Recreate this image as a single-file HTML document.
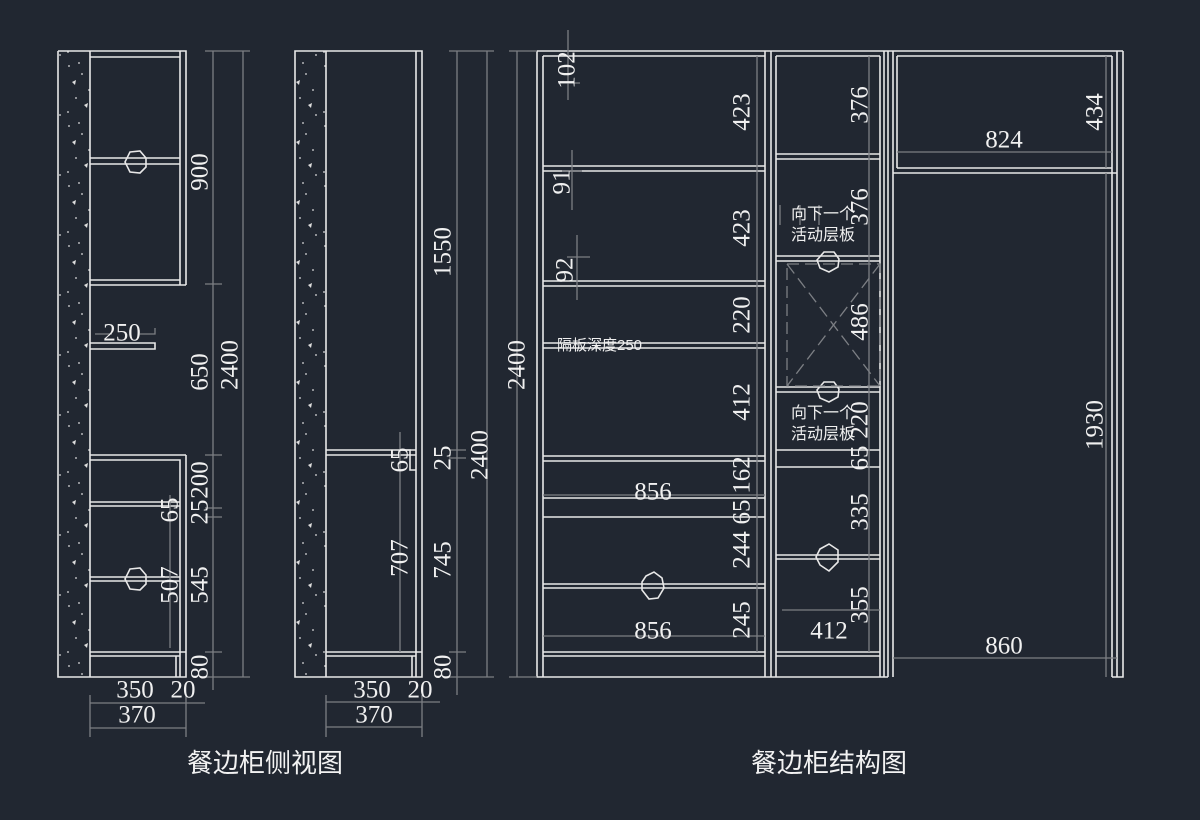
<!DOCTYPE html>
<html><head><meta charset="utf-8"><style>
html,body{margin:0;padding:0;background:#212731;}
svg{display:block}
.w{stroke:#e8e8e8;stroke-width:1.6;fill:none}
.g{stroke:#7c7f84;stroke-width:1.3;fill:none}
.t{fill:#f0f0f0;font-family:"Liberation Serif",serif;font-size:25px;text-anchor:middle;dominant-baseline:central}
.c{fill:#f0f0f0;font-family:"Liberation Sans","Noto Sans CJK SC",sans-serif;font-size:16px}
.h{fill:#f2f2f2;font-family:"Liberation Sans","Noto Sans CJK SC",sans-serif;font-size:26px}
</style></head><body>
<svg width="1200" height="820" viewBox="0 0 1200 820" xmlns="http://www.w3.org/2000/svg">
<defs>
<pattern id="hat" width="32" height="60" patternUnits="userSpaceOnUse">
<circle cx="5" cy="6" r="0.9" fill="#ddd"/><circle cx="18" cy="14" r="0.9" fill="#ddd"/>
<polygon points="8,22 12,20 11,25" fill="#ddd"/><circle cx="25" cy="30" r="0.9" fill="#ddd"/>
<circle cx="12" cy="38" r="0.9" fill="#ddd"/><polygon points="20,45 24,43 23,48" fill="#ddd"/>
<circle cx="4" cy="52" r="0.9" fill="#ddd"/><circle cx="28" cy="55" r="0.9" fill="#ddd"/>
<circle cx="15" cy="3" r="0.9" fill="#ddd"/>
</pattern>
</defs>

<!-- ===== Side view 1 ===== -->
<rect x="58" y="51" width="32" height="626" fill="url(#hat)"/>
<g class="w">
<path d="M58 51H186V285 M58 51V677H186V455 M90 51V677"/>
<path d="M90 57H180V285 M180 51V57"/>
<path d="M90 158H180 M90 164H180 M90 280H180 M90 285H186"/>
<path d="M90 455H186 M90 460H180V677 M90 502H180 M90 506H180 M90 577H180 M90 581H180 M90 652H186 M90 656H180 M176 656V677"/>
<path d="M90 343H155V349H90"/>
<polygon points="130,152 140,151 146,158 146,167 140,173 130,172 125,162"/>
<polygon points="130,569 140,568 146,575 146,584 140,590 130,589 125,579"/>
</g>
<g class="g">
<path d="M213 51V677 M243 51V677 M205 51H250 M205 284H222 M205 455H222 M205 508H222 M205 517H222 M205 652H222 M205 677H250 M213 677V690"/>
<path d="M170 495V648 M95 334H112 M140 334H155V328"/>
<path d="M90 695V737 M186 695V737 M90 703H205 M90 728H186"/>
</g>
<text class="t" transform="translate(200,172) rotate(-90)">900</text>
<text class="t" transform="translate(200,372) rotate(-90)">650</text>
<text class="t" transform="translate(230,365) rotate(-90)">2400</text>
<text class="t" transform="translate(200,480) rotate(-90)">200</text>
<text class="t" transform="translate(200,512) rotate(-90)">25</text>
<text class="t" transform="translate(200,585) rotate(-90)">545</text>
<text class="t" transform="translate(200,667) rotate(-90)">80</text>
<text class="t" transform="translate(170,510) rotate(-90)">65</text>
<text class="t" transform="translate(170,585) rotate(-90)">507</text>
<text class="t" x="122" y="333">250</text>
<text class="t" x="135" y="690">350</text>
<text class="t" x="183" y="690">20</text>
<text class="t" x="137" y="715">370</text>

<!-- ===== Side view 2 ===== -->
<rect x="295" y="51" width="31" height="626" fill="url(#hat)"/>
<g class="w">
<path d="M295 51H422V677H295Z M326 51V677 M416 51V677"/>
<path d="M326 450H416 M326 455H416 M326 652H422 M326 656H416 M412 656V677"/>
<path d="M400 450H410V470H416"/>
</g>
<g class="g">
<path d="M457 51V677 M487 51V677 M449 51H494 M449 450H466 M449 458H466 M449 652H466 M449 677H494 M457 677V695"/>
<path d="M400 432V652"/>
<path d="M326 695V737 M422 695V737 M326 702H440 M326 727H422"/>
</g>
<text class="t" transform="translate(443,252) rotate(-90)">1550</text>
<text class="t" transform="translate(443,458) rotate(-90)">25</text>
<text class="t" transform="translate(480,455) rotate(-90)">2400</text>
<text class="t" transform="translate(443,560) rotate(-90)">745</text>
<text class="t" transform="translate(443,667) rotate(-90)">80</text>
<text class="t" transform="translate(400,460) rotate(-90)">65</text>
<text class="t" transform="translate(400,558) rotate(-90)">707</text>
<text class="t" x="372" y="690">350</text>
<text class="t" x="420" y="690">20</text>
<text class="t" x="374" y="715">370</text>

<!-- ===== Structure view ===== -->
<g class="w">
<path d="M537 51H1123 M537 51V677H888 M1112 677H1123V51"/>
<path d="M543 56V677 M543 56H765"/>
<path d="M765 51V677 M771 51V677 M776 56V677 M776 56H880 M880 56V677 M884 51V677 M888 51V677"/>
<path d="M893 51V677 M897 56V168 M897 56H1112 M1112 56V677 M1117 51V677"/>
<path d="M897 168H1112 M893 173H1117"/>
<path d="M543 166H765 M543 171H765 M543 281H765 M543 286H765 M543 343H765 M543 348H765 M543 456H765 M543 461H765 M543 498H765 M543 517H765 M543 584H765 M543 588H765 M543 652H765 M543 656H765"/>
<path d="M776 154H880 M776 159H880 M776 256H880 M776 261H880 M776 387H880 M776 392H880 M776 450H880 M776 467H880 M776 555H880 M776 559H880 M776 652H880 M776 656H880"/>
<polygon points="824,252 834,252 839,259 838,267 829,272 820,268 817,260"/>
<polygon points="824,382 834,382 839,389 838,397 829,402 820,398 817,390"/>
<polygon points="820,549 829,544 838,550 838,562 829,571 820,565 816,557"/>
<polygon points="646,576 654,572 662,578 664,588 658,598 649,599 642,590 642,582"/>
</g>
<g class="g" stroke-dasharray="12,6">
<path d="M787 264H880V386H787Z"/>
<path d="M787 264L880 386 M880 264L787 386"/>
</g>
<g class="g">
<path d="M517 51V677 M509 51H537 M509 677H537"/>
<path d="M757 56V652 M568 30V100 M558 83H580 M572 150V210 M562 171H582 M577 235V300 M567 257H590"/>
<path d="M543 495H765 M543 636H765"/>
<path d="M869 56V652 M782 610H880 M780 205V225 M800 205V225 M819 205V225"/>
<path d="M1106 56V168 M897 152H1112 M1106 173V677 M893 658H1117"/>
</g>
<text class="t" transform="translate(517,365) rotate(-90)">2400</text>
<text class="t" transform="translate(567,70) rotate(-90)">102</text>
<text class="t" transform="translate(742,112) rotate(-90)">423</text>
<text class="t" transform="translate(562,182) rotate(-90)">91</text>
<text class="t" transform="translate(742,228) rotate(-90)">423</text>
<text class="t" transform="translate(565,270) rotate(-90)">92</text>
<text class="t" transform="translate(742,315) rotate(-90)">220</text>
<text class="t" transform="translate(742,402) rotate(-90)">412</text>
<text class="t" transform="translate(742,475) rotate(-90)">162</text>
<text class="t" transform="translate(742,512) rotate(-90)">65</text>
<text class="t" transform="translate(742,550) rotate(-90)">244</text>
<text class="t" transform="translate(742,620) rotate(-90)">245</text>
<text class="t" x="653" y="492">856</text>
<text class="t" x="653" y="631">856</text>
<text class="t" transform="translate(860,105) rotate(-90)">376</text>
<text class="t" transform="translate(860,207) rotate(-90)">376</text>
<text class="t" transform="translate(860,322) rotate(-90)">486</text>
<text class="t" transform="translate(860,420) rotate(-90)">220</text>
<text class="t" transform="translate(860,458) rotate(-90)">65</text>
<text class="t" transform="translate(860,512) rotate(-90)">335</text>
<text class="t" transform="translate(860,605) rotate(-90)">355</text>
<text class="t" x="829" y="631">412</text>
<text class="t" transform="translate(1095,112) rotate(-90)">434</text>
<text class="t" x="1004" y="140">824</text>
<text class="t" transform="translate(1095,425) rotate(-90)">1930</text>
<text class="t" x="1004" y="646">860</text>
<text class="c" x="791" y="219">向下一个</text>
<text class="c" x="791" y="240">活动层板</text>
<text class="c" x="791" y="418">向下一个</text>
<text class="c" x="791" y="439">活动层板</text>
<text class="c" x="557" y="350" style="font-size:15px">隔板深度250</text>

<text class="h" x="187" y="772">餐边柜侧视图</text>
<text class="h" x="751" y="772">餐边柜结构图</text>
</svg>
</body></html>
